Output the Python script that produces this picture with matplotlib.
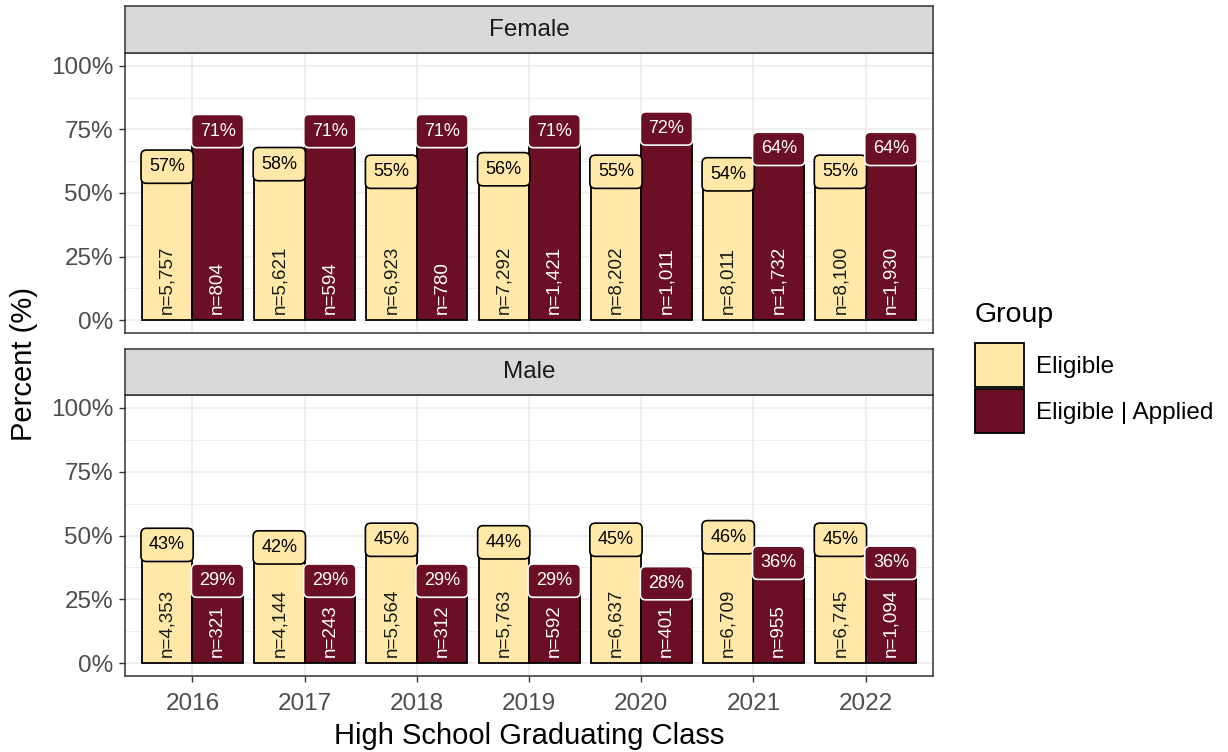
import matplotlib.pyplot as plt
import matplotlib
from matplotlib.patches import Patch
import numpy as np

matplotlib.rcParams['font.family'] = ['Liberation Sans', 'DejaVu Sans']

years = [2016, 2017, 2018, 2019, 2020, 2021, 2022]
groups = ['Eligible', 'Eligible | Applied']
colors = ['#FFE8A8', '#6A0F24']

female_elig_pct = [57, 58, 55, 56, 55, 54, 55]
female_app_pct = [71, 71, 71, 71, 72, 64, 64]
female_elig_n = [5757, 5621, 6923, 7292, 8202, 8011, 8100]
female_app_n = [804, 594, 780, 1421, 1011, 1732, 1930]

male_elig_pct = [43, 42, 45, 44, 45, 46, 45]
male_app_pct = [29, 29, 29, 29, 28, 36, 36]
male_elig_n = [4353, 4144, 5564, 5763, 6637, 6709, 6745]
male_app_n = [321, 243, 312, 592, 401, 955, 1094]

panels = [
    ('Female', female_elig_pct, female_app_pct, female_elig_n, female_app_n),
    ('Male', male_elig_pct, male_app_pct, male_elig_n, male_app_n),
]

W, H = 1228, 752
fig = plt.figure(figsize=(W / 100, H / 100), dpi=100)

# pixel boxes: (top of strip, bottom of strip/top of panel, bottom of panel)
boxes = [(6, 53, 333), (349, 395, 676)]
px_left, px_right = 125, 933

x = np.arange(len(years))
bw = 0.45
lab_fs = 13
lab_box = 'round,pad=0.45,rounding_size=0.3'

for i, (name, ep, ap, en, an) in enumerate(panels):
    s_top, p_top, p_bot = boxes[i]
    ax = fig.add_axes([px_left / W, 1 - p_bot / H, (px_right - px_left) / W, (p_bot - p_top) / H])
    sax = fig.add_axes([px_left / W, 1 - p_top / H, (px_right - px_left) / W, (p_top - s_top) / H])

    # strip
    sax.set_facecolor('#D9D9D9')
    sax.set_xticks([])
    sax.set_yticks([])
    for sp in sax.spines.values():
        sp.set_color('#333333')
        sp.set_linewidth(1.1)
    sax.text(0.5, 0.5, name, ha='center', va='center', fontsize=17.5, color='#1A1A1A',
             transform=sax.transAxes)

    e_vals = [v / 100 for v in ep]
    a_vals = [v / 100 for v in ap]

    ax.bar(x - bw / 2, e_vals, width=bw, color=colors[0], edgecolor='black', linewidth=1.3, zorder=2)
    ax.bar(x + bw / 2, a_vals, width=bw, color=colors[1], edgecolor='black', linewidth=1.3, zorder=2)

    for xi, v, n in zip(x, e_vals, en):
        ax.text(xi - bw / 2, v, f'{round(v * 100)}%', ha='center', va='bottom', fontsize=lab_fs,
                color='black', zorder=4,
                bbox=dict(boxstyle=lab_box, fc=colors[0], ec='black', lw=1.2))
        ax.annotate(f'n={n:,}', (xi - bw / 2, 0), xytext=(0, 4.5), textcoords='offset points',
                    rotation=90, ha='center', va='bottom', fontsize=13.5, color='#1A1A1A', zorder=3)
    for xi, v, n in zip(x, a_vals, an):
        ax.text(xi + bw / 2, v, f'{round(v * 100)}%', ha='center', va='bottom', fontsize=lab_fs,
                color='white', zorder=4,
                bbox=dict(boxstyle=lab_box, fc=colors[1], ec='white', lw=1.2))
        ax.annotate(f'n={n:,}', (xi + bw / 2, 0), xytext=(0, 4.5), textcoords='offset points',
                    rotation=90, ha='center', va='bottom', fontsize=13.5, color='white', zorder=3)

    ax.set_xlim(-0.6, len(years) - 0.4)
    ax.set_ylim(-0.05, 1.05)
    ax.set_yticks([0, 0.25, 0.5, 0.75, 1.0])
    ax.set_yticklabels(['0%', '25%', '50%', '75%', '100%'])
    ax.set_yticks([0.125, 0.375, 0.625, 0.875], minor=True)
    ax.set_xticks(x)
    ax.grid(which='major', color='#EBEBEB', linewidth=1.1, zorder=0)
    ax.grid(which='minor', axis='y', color='#EBEBEB', linewidth=0.6, zorder=0)
    ax.set_axisbelow(True)
    ax.tick_params(axis='both', which='major', length=4.5, width=1, color='#333333',
                   labelsize=17.5, labelcolor='#4D4D4D', pad=4)
    ax.tick_params(axis='x', pad=8)
    ax.tick_params(axis='y', which='minor', length=0)
    for sp in ax.spines.values():
        sp.set_color('#333333')
        sp.set_linewidth(1.1)
    if i == 0:
        ax.tick_params(axis='x', which='both', length=0, labelbottom=False)
    else:
        ax.set_xticklabels([str(y) for y in years])

fig.text((px_left + px_right) / 2 / W, 1 - 736 / H, 'High School Graduating Class',
         ha='center', va='center', fontsize=21)
fig.text(24 / W, 1 - 364 / H, 'Percent (%)', ha='center', va='center', rotation=90, fontsize=21)

handles = [Patch(facecolor=c, edgecolor='black', linewidth=1.3) for c in colors]
leg = fig.legend(handles, groups, loc='upper left', bbox_to_anchor=(975 / W, 1 - 302 / H),
                 frameon=False, fontsize=17.5, title='Group', title_fontsize=20.5,
                 handlelength=2.0, handleheight=2.4, labelspacing=0.08, handletextpad=0.5,
                 borderpad=0, borderaxespad=0)
leg._legend_box.align = 'left'
leg._legend_box.sep = 11

fig.savefig('out.png', dpi=100)
